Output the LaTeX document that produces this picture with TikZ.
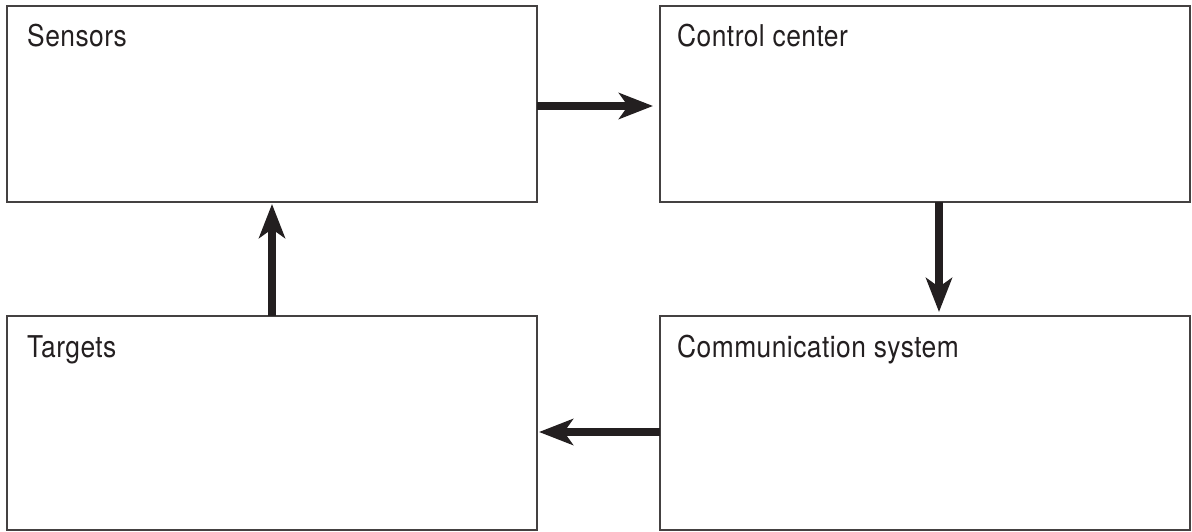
\documentclass[tikz,border=0pt]{standalone}
\usepackage{fontspec}
\setmainfont{TeX Gyre Heros}[FakeStretch=0.88,LetterSpace=1.5]
\usetikzlibrary{arrows.meta}
\definecolor{ink}{HTML}{231F20}
\begin{document}
\begin{tikzpicture}[x=1pt,y=1pt,
  box/.style={draw=ink!85, line width=1.3pt, minimum width=530pt, inner sep=0pt, outer sep=0pt},
  lbl/.style={anchor=base west, inner sep=0pt, font=\fontsize{30}{34}\selectfont, text=ink},
  arr/.style={draw=ink, line width=8pt, -{Stealth[length=34pt,width=26pt,inset=9pt]}}]
\useasboundingbox (0,0) rectangle (1192,531);
\node[box, minimum height=196pt] (sensors) at (272,427) {};
\node[box, minimum height=196pt] (control) at (925,427) {};
\node[box, minimum height=214pt] (targets) at (272,108) {};
\node[box, minimum height=214pt] (comm) at (925,108) {};
\node[lbl] (tsensors) at ([shift={(20,-41)}]sensors.north west) {Sensors};
\node[lbl] (tcontrol) at ([shift={(17,-41)}]control.north west) {Control center};
\node[lbl] (ttargets) at ([shift={(20,-41)}]targets.north west) {Targets};
\node[lbl] (tcomm) at ([shift={(17,-41)}]comm.north west) {Communication system};
\draw[arr] ([yshift=-2pt]sensors.east) -- ([shift={(-7pt,-2pt)}]control.west);
\draw[arr] ([xshift=14pt]control.south) -- ([shift={(14pt,4pt)}]comm.north);
\draw[arr] ([yshift=-9pt]comm.west) -- ([shift={(2pt,-9pt)}]targets.east);
\draw[arr] (targets.north) -- ([yshift=-2pt]sensors.south);
\end{tikzpicture}
\end{document}
